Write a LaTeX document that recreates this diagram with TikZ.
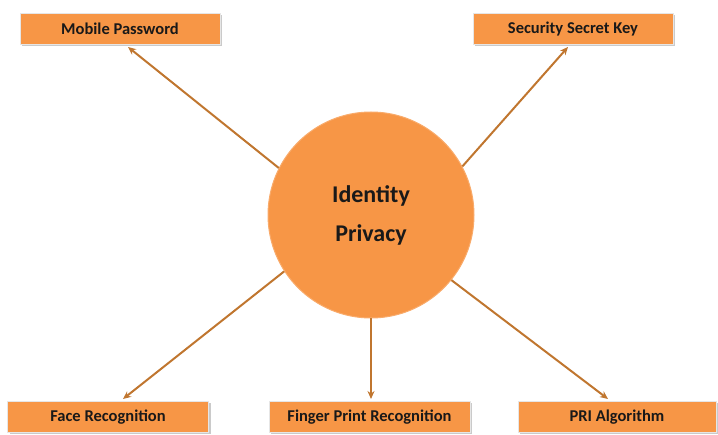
\documentclass[tikz,border=0pt]{standalone}
\usepackage{fontspec}
\setmainfont{Carlito}
\usetikzlibrary{shadows,arrows.meta}
\definecolor{boxorange}{HTML}{F79646}
\definecolor{arrowc}{HTML}{C0762F}
\definecolor{boxline}{HTML}{E6E6E6}
\begin{document}
\begin{tikzpicture}[x=1pt,y=-1pt,
  box/.style={rectangle, fill=boxorange, draw=boxline, line width=1pt,
    minimum height=31pt, inner sep=0pt,
    font=\fontsize{16.5}{19}\selectfont\bfseries, text=black!90,
    drop shadow={shadow xshift=2pt, shadow yshift=-2pt, fill=black!35, opacity=0.6}},
  hub/.style={circle, fill=boxorange, draw=boxorange!80!white, line width=1pt,
    minimum size=206pt, inner sep=0pt, align=center,
    font=\fontsize{24}{39}\selectfont\bfseries, text=black!90},
  arr/.style={draw=arrowc, line width=2pt, -{Stealth[length=8pt,width=7pt]}}
]
\useasboundingbox (0,0) rectangle (718,435);
\node[box, minimum width=200pt] (mp) at (120,29) {Mobile Password};
\node[box, minimum width=200pt] (ssk) at (573,29) {Security Secret Key};
\node[box, minimum width=201pt] (fr) at (108,417) {Face Recognition};
\node[box, minimum width=201pt] (fpr) at (369.5,417) {Finger Print Recognition};
\node[box, minimum width=198pt] (pri) at (617,417) {PRI Algorithm};
\node[hub] (c) at (371,215) {Identity\\Privacy};
\draw[arr] (c.153) -- ([xshift=8pt,yshift=-2pt]mp.south);
\draw[arr] (c.28) -- ([xshift=-5pt,yshift=-2pt]ssk.south);
\draw[arr] (c.213) -- ([xshift=15pt,yshift=2pt]fr.north);
\draw[arr] (c.south) -- ([yshift=2pt]c.south |- fpr.north);
\draw[arr] (c.321) -- ([xshift=-9pt,yshift=2pt]pri.north);
\end{tikzpicture}
\end{document}
